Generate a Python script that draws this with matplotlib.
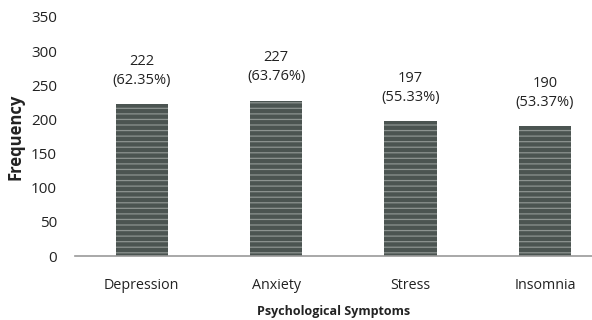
import matplotlib.pyplot as plt

plt.rcParams['font.family'] = ['Open Sans', 'DejaVu Sans']
plt.rcParams['hatch.linewidth'] = 0.9
plt.rcParams['hatch.color'] = '#8c9390'

# datos
sintomas = ['Depression', 'Anxiety', 'Stress', 'Insomnia']
frecuencias = [222, 227, 197, 190]
porcentajes = ['62.35%', '63.76%', '55.33%', '53.37%']

fig = plt.figure(figsize=(5.92, 3.2), dpi=100)
ax = fig.add_axes([0.127, 0.2, 0.873, 0.747])

barras = ax.bar(range(len(sintomas)), frecuencias, width=0.39,
                color='#4b5451', edgecolor='#8c9390', linewidth=0,
                hatch='---')

for b, f, p in zip(barras, frecuencias, porcentajes):
    ax.annotate(f"{f}\n({p})", (b.get_x() + b.get_width() / 2, f),
                xytext=(0, 12), textcoords='offset points',
                ha='center', va='bottom', fontsize=10.5, color='#222222',
                linespacing=1.35)

ax.set_xlim(-0.495, 3.35)
ax.set_ylim(0, 350)
ax.set_yticks(range(0, 351, 50))
ax.set_xticks(range(len(sintomas)))
ax.set_xticklabels(sintomas)

for s in ['top', 'right', 'left']:
    ax.spines[s].set_visible(False)
ax.spines['bottom'].set_color('#999999')
ax.spines['bottom'].set_linewidth(1.2)

ax.tick_params(axis='both', length=0, colors='#222222')
ax.tick_params(axis='x', pad=15.5, labelsize=10.3)
ax.tick_params(axis='y', pad=13, labelsize=11)

ax.set_xlabel('Psychological Symptoms', fontweight='bold', fontsize=9,
              color='#222222', labelpad=9)
ax.set_ylabel('Frequency', fontweight='bold', fontsize=12,
              color='#222222', labelpad=5)

plt.savefig('out.png', dpi=100)
plt.close()
